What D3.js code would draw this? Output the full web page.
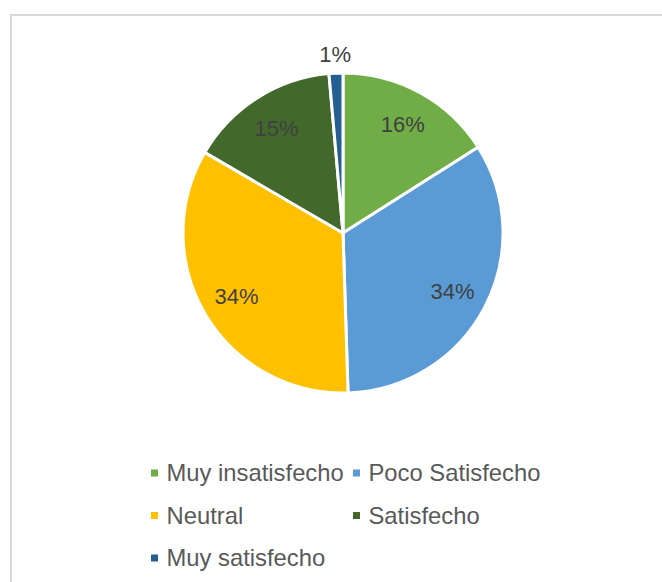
<!DOCTYPE html>
<html>
<head>
<meta charset="utf-8">
<script src="https://cdn.jsdelivr.net/npm/d3@7"></script>
<style>
html,body{margin:0;padding:0;background:#fff;}
svg{display:block;font-family:"Liberation Sans",Arial,sans-serif;}
</style>
</head>
<body>
<svg id="chart" width="662" height="582"></svg>
<script>
const categories = ["Muy insatisfecho", "Poco Satisfecho", "Neutral", "Satisfecho", "Muy satisfecho"];
const values = [16.0, 33.5, 33.9, 15.2, 1.4];
const colors = ["#70AD47", "#5B9BD5", "#FFC000", "#43682B", "#255E91"];

const svg = d3.select("#chart");
const W = 662, H = 582;

// chart frame
svg.append("rect")
  .attr("x", 11).attr("y", 15)
  .attr("width", W + 20).attr("height", H + 20)
  .attr("fill", "#fff").attr("stroke", "#D9D9D9").attr("stroke-width", 2);

const cx = 343, cy = 233, radius = 160;
const data = categories.map((c, i) => ({ cat: c, value: values[i], color: colors[i] }));
const total = d3.sum(values);

const pie = d3.pie().value(d => d.value).sort(null);
const arcs = pie(data);
const arc = d3.arc().innerRadius(0).outerRadius(radius);

const g = svg.append("g").attr("transform", `translate(${cx},${cy})`);
g.selectAll("path.slice").data(arcs).enter().append("path")
  .attr("class", "slice")
  .attr("d", arc)
  .attr("fill", d => d.data.color)
  .attr("stroke", "#fff")
  .attr("stroke-width", 3)
  .attr("stroke-linejoin", "round");

g.selectAll("text.lbl").data(arcs).enter().append("text")
  .attr("class", "lbl")
  .attr("transform", d => {
    const small = (d.endAngle - d.startAngle) < 0.2;
    const r = small ? radius + 19 : radius * 0.775;
    const a = (d.startAngle + d.endAngle) / 2;
    return `translate(${r * Math.sin(a)},${-r * Math.cos(a)})`;
  })
  .attr("text-anchor", "middle")
  .attr("dy", "0.35em")
  .attr("font-size", 22)
  .attr("fill", "#404040")
  .text(d => Math.round(d.data.value / total * 100) + "%");

// legend
const legX = [151, 353], legY = [473, 515.5, 558];
const leg = svg.append("g");
data.forEach((d, i) => {
  const col = i % 2, row = Math.floor(i / 2);
  const x = legX[col], y = legY[row];
  leg.append("rect").attr("x", x).attr("y", y - 3.5).attr("width", 7).attr("height", 7).attr("fill", d.color);
  leg.append("text").attr("x", x + 15.5).attr("y", y).attr("dy", "0.35em")
    .attr("font-size", 23.8).attr("fill", "#595959").text(d.cat);
});
</script>
</body>
</html>
